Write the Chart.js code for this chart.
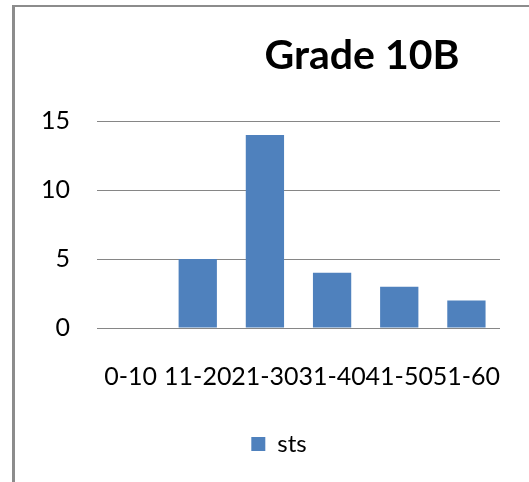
<!DOCTYPE html>
<html>
<head>
<meta charset="utf-8">
<script src="https://cdn.jsdelivr.net/npm/chart.js@4/dist/chart.umd.min.js"></script>
<style>
  html, body { margin: 0; padding: 0; background: #fff; }
  #wrap { position: relative; width: 529px; height: 482px; overflow: hidden; }
  #frame { position: absolute; left: 12px; top: 5px; width: 700px; height: 700px;
           border-left: 3px solid #8c8c8c; border-top: 2px solid #8c8c8c; pointer-events: none; }
  canvas { position: absolute; left: 0; top: 0; }
</style>
</head>
<body>
<div id="wrap">
  <canvas id="c" width="529" height="482"></canvas>
  <div id="frame"></div>
</div>
<script>
const chartTitle = "Grade 10B";
const categories = ["0-10", "11-20", "21-30", "31-40", "41-50", "51-60"];
const seriesName = "sts";
const seriesValues = [0, 5, 14, 4, 3, 2];
const yTicks = [0, 5, 10, 15];

const FONT = "Lato, 'Open Sans', sans-serif";

const boxShift = {
  id: 'boxShift',
  afterLayout(chart) {
    const t = chart.titleBlock;
    if (t) { t.left = 195; t.right = 529; }
    const l = chart.legend;
    if (l) { l.left += 29; l.right += 29; }
  }
};

new Chart(document.getElementById('c'), {
  type: 'bar',
  data: {
    labels: categories,
    datasets: [{
      label: seriesName,
      data: seriesValues,
      backgroundColor: '#4F81BD',
      borderWidth: 0,
      categoryPercentage: 1,
      barPercentage: 0.57
    }]
  },
  plugins: [boxShift],
  options: {
    responsive: false,
    animation: false,
    layout: { padding: { left: 0, right: 29, top: 0, bottom: 16 } },
    plugins: {
      title: {
        display: true,
        text: chartTitle,
        color: '#000',
        font: { family: FONT, size: 41, weight: 'bold' },
        padding: { top: 31, bottom: 41 }
      },
      legend: {
        display: true,
        position: 'bottom',
        labels: {
          color: '#000',
          font: { family: FONT, size: 24 },
          boxWidth: 14,
          boxHeight: 14,
          padding: 6
        }
      },
      tooltip: { enabled: false }
    },
    scales: {
      x: {
        afterFit(scale) { scale.paddingLeft = 0; scale.paddingRight = 0; },
        grid: { display: false, drawTicks: false },
        border: { display: false },
        ticks: {
          autoSkip: false,
          maxRotation: 0,
          minRotation: 0,
          color: '#000',
          font: { family: FONT, size: 25 },
          padding: 34
        }
      },
      y: {
        min: 0,
        max: 15,
        afterFit(scale) { scale.width = 97; },
        afterBuildTicks(scale) { scale.ticks = yTicks.map(v => ({ value: v })); },
        grid: { color: '#868686', lineWidth: 1, drawTicks: false },
        border: { display: false },
        ticks: {
          color: '#000',
          font: { family: FONT, size: 25 },
          padding: 27
        }
      }
    }
  }
});
</script>
</body>
</html>
